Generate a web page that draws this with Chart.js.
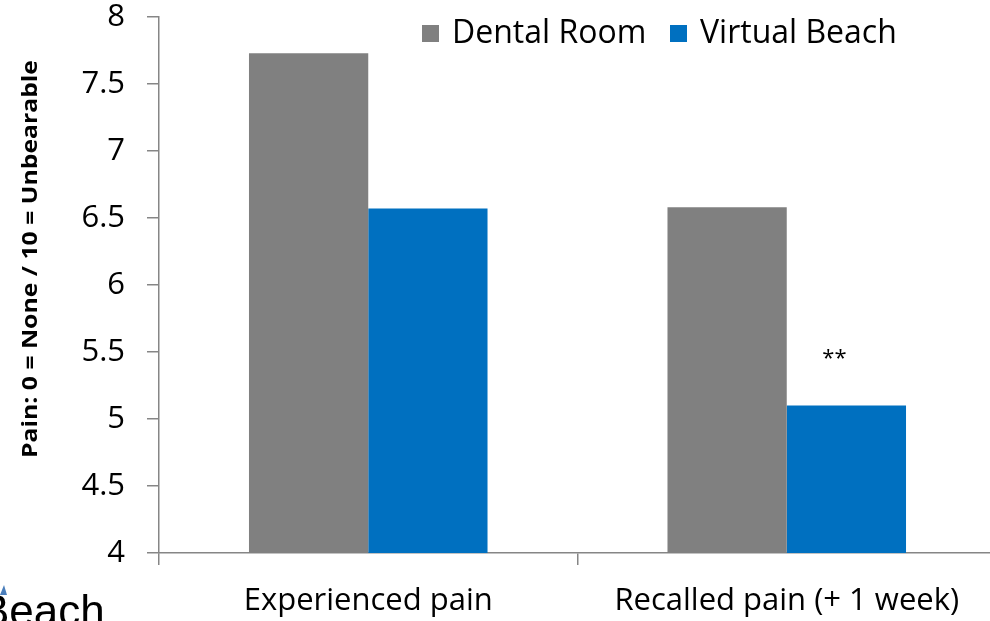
<!DOCTYPE html>
<html>
<head>
<meta charset="utf-8">
<script src="https://cdn.jsdelivr.net/npm/chart.js@4/dist/chart.umd.min.js"></script>
<style>
  html, body { margin: 0; padding: 0; background: #fff; overflow: hidden; }
  #wrap { width: 1000px; height: 621px; position: relative; }
</style>
</head>
<body>
<div id="wrap"><canvas id="c" width="1000" height="621"></canvas></div>
<script>
var categories = ['Experienced pain', 'Recalled pain (+ 1 week)'];
var dentalRoom = [7.73, 6.58];
var virtualBeach = [6.57, 5.10];
var seriesNames = ['Dental Room', 'Virtual Beach'];
var yTitle = 'Pain: 0 = None / 10 = Unbearable';
var starLabel = '**';
var starValue = 5.45;

var FONT = '"Open Sans", Lato, sans-serif';
var GRAY = '#808080';
var BLUE = '#0070C0';

// legend inside the plot, y title, "**" marker and the bit of slide text at the bottom
var extras = {
  id: 'extras',
  afterDraw: function (chart) {
    var ctx = chart.ctx;
    var y = chart.scales.y;
    ctx.save();
    // legend
    ctx.font = '32px ' + FONT;
    ctx.textBaseline = 'middle';
    ctx.fillStyle = GRAY;
    ctx.fillRect(422, 25, 17, 17);
    ctx.fillStyle = '#000';
    ctx.fillText(seriesNames[0], 452, 34);
    ctx.fillStyle = BLUE;
    ctx.fillRect(670, 25, 17, 17);
    ctx.fillStyle = '#000';
    ctx.fillText(seriesNames[1], 700, 34);

    // rotated y title, squeezed a bit like the narrow original
    ctx.save();
    ctx.translate(31, 259);
    ctx.rotate(-Math.PI / 2);
    ctx.font = 'bold 22px ' + FONT;
    ctx.textAlign = 'center';
    var w = ctx.measureText(yTitle).width;
    ctx.scale(398 / w, 1);
    ctx.fillText(yTitle, 0, 0);
    ctx.restore();

    // significance marker
    var bar = chart.getDatasetMeta(1).data[1];
    ctx.font = '22px ' + FONT;
    ctx.textAlign = 'center';
    ctx.fillText(starLabel, bar.x - 12, y.getPixelForValue(starValue));

    // leftover slide text
    ctx.textAlign = 'left';
    ctx.textBaseline = 'alphabetic';
    ctx.font = '44px "Liberation Sans", Arial, sans-serif';
    ctx.fillText('Beach', -20, 626);
    ctx.fillStyle = '#4a7ebb';
    ctx.beginPath();
    ctx.moveTo(0, 595);
    ctx.lineTo(4, 585);
    ctx.lineTo(7, 595);
    ctx.closePath();
    ctx.fill();
    ctx.restore();
  }
};

new Chart(document.getElementById('c'), {
  type: 'bar',
  data: {
    labels: categories,
    datasets: [
      { label: seriesNames[0], data: dentalRoom, backgroundColor: GRAY },
      { label: seriesNames[1], data: virtualBeach, backgroundColor: BLUE }
    ]
  },
  options: {
    responsive: false,
    animation: false,
    devicePixelRatio: 1,
    layout: { padding: { top: 17, left: 20, right: 4, bottom: 0 } },
    datasets: { bar: { barPercentage: 1, categoryPercentage: 0.57 } },
    plugins: {
      legend: { display: false },
      tooltip: { enabled: false }
    },
    scales: {
      x: {
        offset: true,
        grid: { offset: true, drawOnChartArea: false, drawTicks: true, tickLength: 12, color: '#868686', lineWidth: 1.5 },
        border: { color: '#868686', width: 1.5 },
        ticks: { color: '#000', font: { family: FONT, size: 31 }, padding: 18, maxRotation: 0 },
        afterFit: function (s) { s.height = 68; s.paddingLeft = 0; s.paddingRight = 0; }
      },
      y: {
        min: 4,
        max: 8,
        grid: { drawOnChartArea: false, drawTicks: true, tickLength: 12, color: '#868686', lineWidth: 1.5 },
        border: { color: '#868686', width: 1.5 },
        ticks: {
          stepSize: 0.5, autoSkip: false, color: '#000', font: { family: FONT, size: 31 }, padding: 22,
          callback: function (v) { return String(v); }
        },
        afterFit: function (s) { s.width = 139; s.paddingTop = 0; s.paddingBottom = 0; }
      }
    }
  },
  plugins: [extras]
});
</script>
</body>
</html>
